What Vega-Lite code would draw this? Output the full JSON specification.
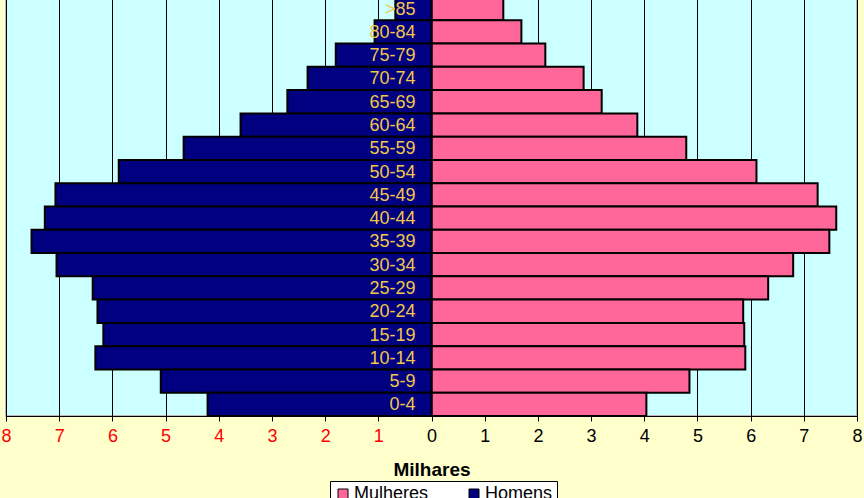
{
  "$schema": "https://vega.github.io/schema/vega-lite/v6.json",
  "width": 851,
  "height": 419,
  "autosize": {"type": "none"},
  "padding": {"left": 6, "top": -3, "right": 7, "bottom": 82},
  "background": "#FFFFCC",
  "config": {
    "font": "Liberation Sans",
    "view": {"fill": "#CCFFFF", "stroke": "#B8B8B8", "strokeWidth": 2}
  },
  "data": {
    "values": [
      {"idade": ">85", "sexo": "Mulheres", "v": 1.35},
      {"idade": "80-84", "sexo": "Mulheres", "v": 1.69},
      {"idade": "75-79", "sexo": "Mulheres", "v": 2.14},
      {"idade": "70-74", "sexo": "Mulheres", "v": 2.86},
      {"idade": "65-69", "sexo": "Mulheres", "v": 3.2},
      {"idade": "60-64", "sexo": "Mulheres", "v": 3.87},
      {"idade": "55-59", "sexo": "Mulheres", "v": 4.79},
      {"idade": "50-54", "sexo": "Mulheres", "v": 6.11},
      {"idade": "45-49", "sexo": "Mulheres", "v": 7.26},
      {"idade": "40-44", "sexo": "Mulheres", "v": 7.61},
      {"idade": "35-39", "sexo": "Mulheres", "v": 7.48},
      {"idade": "30-34", "sexo": "Mulheres", "v": 6.8},
      {"idade": "25-29", "sexo": "Mulheres", "v": 6.33},
      {"idade": "20-24", "sexo": "Mulheres", "v": 5.86},
      {"idade": "15-19", "sexo": "Mulheres", "v": 5.88},
      {"idade": "10-14", "sexo": "Mulheres", "v": 5.9},
      {"idade": "5-9", "sexo": "Mulheres", "v": 4.85},
      {"idade": "0-4", "sexo": "Mulheres", "v": 4.04},
      {"idade": ">85", "sexo": "Homens", "v": -0.68},
      {"idade": "80-84", "sexo": "Homens", "v": -1.07},
      {"idade": "75-79", "sexo": "Homens", "v": -1.8},
      {"idade": "70-74", "sexo": "Homens", "v": -2.33},
      {"idade": "65-69", "sexo": "Homens", "v": -2.71},
      {"idade": "60-64", "sexo": "Homens", "v": -3.59},
      {"idade": "55-59", "sexo": "Homens", "v": -4.66},
      {"idade": "50-54", "sexo": "Homens", "v": -5.88},
      {"idade": "45-49", "sexo": "Homens", "v": -7.07},
      {"idade": "40-44", "sexo": "Homens", "v": -7.27},
      {"idade": "35-39", "sexo": "Homens", "v": -7.52},
      {"idade": "30-34", "sexo": "Homens", "v": -7.05},
      {"idade": "25-29", "sexo": "Homens", "v": -6.37},
      {"idade": "20-24", "sexo": "Homens", "v": -6.28},
      {"idade": "15-19", "sexo": "Homens", "v": -6.17},
      {"idade": "10-14", "sexo": "Homens", "v": -6.32},
      {"idade": "5-9", "sexo": "Homens", "v": -5.09},
      {"idade": "0-4", "sexo": "Homens", "v": -4.21}
    ]
  },
  "encoding": {
    "y": {
      "field": "idade",
      "type": "nominal",
      "sort": [">85","80-84","75-79","70-74","65-69","60-64","55-59","50-54","45-49","40-44","35-39","30-34","25-29","20-24","15-19","10-14","5-9","0-4"],
      "scale": {"paddingInner": 0, "paddingOuter": 0},
      "axis": null
    }
  },
  "layer": [
    {
      "mark": {"type": "bar", "stroke": "#000000", "strokeWidth": 2},
      "encoding": {
        "x": {
          "field": "v",
          "type": "quantitative",
          "scale": {"domain": [-8, 8], "nice": false},
          "axis": {
            "values": [-8,-7,-6,-5,-4,-3,-2,-1,0,1,2,3,4,5,6,7,8],
            "labelExpr": "abs(datum.value)",
            "labelFontSize": 18,
            "labelColor": {"condition": {"test": "datum.value < 0", "value": "#FF0000"}, "value": "#000000"},
            "labelPadding": 6,
            "labelFlush": false,
            "tickColor": "#000000",
            "tickSize": 5,
            "domainColor": "#000000",
            "grid": true,
            "gridColor": "#000000",
            "gridOpacity": 1,
            "title": "Milhares",
            "titleFontSize": 19,
            "titleFontWeight": "bold",
            "titleColor": "#000000",
            "titlePadding": 15
          }
        },
        "color": {
          "field": "sexo",
          "type": "nominal",
          "scale": {"domain": ["Mulheres", "Homens"], "range": ["#FF6699", "#000080"]},
          "legend": {
            "title": null,
            "orient": "none",
            "direction": "horizontal",
            "legendX": 324,
            "legendY": 484,
            "fillColor": "#FFFFFF",
            "strokeColor": "#000000",
            "padding": 4,
            "columnPadding": 36,
            "labelFontSize": 18,
            "labelColor": "#000000",
            "symbolType": "square",
            "symbolSize": 100,
            "symbolStrokeColor": "#000000",
            "symbolStrokeWidth": 1,
            "symbolOpacity": 1,
            "labelOffset": 2
          }
        }
      }
    },
    {
      "transform": [{"filter": "datum.sexo == 'Mulheres'"}],
      "mark": {"type": "text", "align": "right", "baseline": "middle", "dx": -16, "dy": 1, "fontSize": 18, "color": "#F2C64A"},
      "encoding": {
        "x": {"datum": 0},
        "text": {"field": "idade"}
      }
    }
  ]
}
